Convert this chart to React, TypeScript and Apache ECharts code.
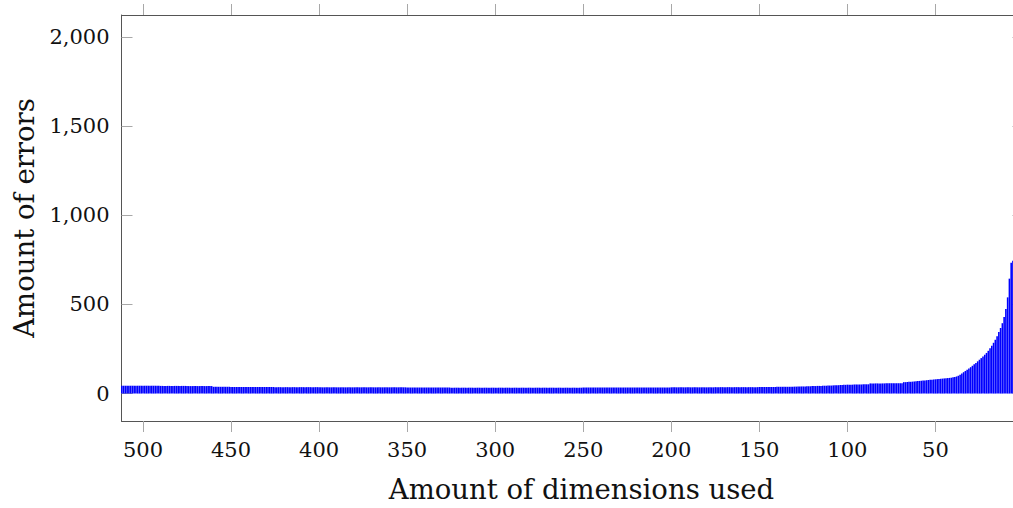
import React, { useEffect, useRef } from "react";
import * as echarts from "echarts";

// Amount of errors for each number of dimensions used (dimension 1 .. 512)
const errorsDims1to50 = [
  1928, 1450, 1180, 980, 860, 745, 735, 645, 540, 475,
  430, 395, 368, 345, 322, 302, 285, 268, 254, 240,
  228, 218, 208, 199, 190, 181, 172, 164, 156, 148,
  141, 134, 127, 120, 113, 106, 100, 96, 93, 91,
  89, 88, 87, 86, 85, 84, 83, 82, 81, 80,
];
const errorsDims51to100 = [
  79, 78, 77, 76, 75, 74, 73, 72, 71, 70,
  69, 68, 67, 66, 66, 65, 64, 64, 58, 58,
  58, 58, 58, 58, 58, 58, 58, 58, 57, 57,
  57, 57, 57, 57, 57, 57, 57, 52, 52, 52,
  52, 51, 51, 51, 51, 51, 50, 50, 50, 50,
];
const errorsDims101to150 = [
  49, 49, 48, 48, 47, 47, 46, 46, 45, 45,
  45, 44, 44, 44, 43, 43, 43, 42, 42, 42,
  41, 41, 41, 40, 40, 40, 39, 39, 39, 39,
  38, 38, 38, 38, 38, 38, 38, 38, 38, 38,
  37, 37, 37, 37, 37, 37, 37, 37, 37, 37,
];
const errorsDims151to250 = [
  36, 36, 36, 36, 36, 36, 36, 36, 36, 36, 36, 36, 36, 36, 36, 36, 36, 36, 36, 36, 36, 36, 36, 36, 36,
  35, 35, 35, 35, 35, 35, 35, 35, 35, 35, 35, 35, 35, 35, 35, 35, 35, 35, 35, 35, 35, 35, 35, 35, 35,
  34, 34, 34, 34, 34, 34, 34, 34, 34, 34, 34, 34, 34, 34, 34, 34, 34, 34, 34, 34, 34, 34, 34, 34, 34,
  34, 34, 34, 34, 34, 34, 34, 34, 34, 34, 34, 34, 34, 34, 34, 34, 34, 34, 34, 34, 34, 34, 34, 34, 34,
];
const errorsDims251to350 = [
  33, 33, 33, 33, 33, 33, 33, 33, 33, 33, 33, 33, 33, 33, 33, 33, 33, 33, 33, 33, 33, 33, 33, 33, 33,
  33, 33, 33, 33, 33, 33, 33, 33, 33, 33, 33, 33, 33, 33, 33, 33, 33, 33, 33, 33, 33, 33, 33, 33, 33,
  33, 33, 33, 33, 33, 33, 33, 33, 33, 33, 33, 33, 33, 33, 33, 33, 33, 33, 33, 33, 33, 33, 33, 33, 33,
  34, 34, 34, 34, 34, 34, 34, 34, 34, 34, 34, 34, 34, 34, 34, 34, 34, 34, 34, 34, 34, 34, 34, 34, 34,
];
const errorsDims351to450 = [
  35, 35, 35, 35, 35, 35, 35, 35, 35, 35, 35, 35, 35, 35, 35, 35, 35, 35, 35, 35, 35, 35, 35, 35, 35,
  35, 35, 35, 35, 35, 35, 35, 35, 35, 35, 35, 35, 35, 35, 35, 35, 35, 35, 35, 35, 35, 35, 35, 35, 35,
  36, 36, 36, 36, 36, 36, 36, 36, 36, 36, 36, 36, 36, 36, 36, 36, 36, 36, 36, 36, 36, 36, 36, 36, 36,
  37, 37, 37, 37, 37, 37, 37, 37, 37, 37, 37, 37, 37, 37, 37, 37, 37, 37, 37, 37, 37, 37, 37, 37, 37,
];
const errorsDims451to512 = [
  38, 38, 38, 38, 38, 38, 38, 38, 38, 38,
  42, 42, 42, 42, 42, 42, 42, 42, 42, 42,
  42, 42, 42, 42, 42, 43, 43, 43, 43, 43,
  43, 43, 43, 43, 43, 43, 43, 43, 43, 43,
  44, 44, 44, 44, 44, 44, 44, 44, 44, 44,
  44, 44, 44, 44, 44, 44, 44, 44, 44, 44,
  44, 44,
];

const xTicks = [50, 100, 150, 200, 250, 300, 350, 400, 450, 500];
const yTicks = [0, 500, 1000, 1500, 2000];

const allErrors = [
  ...errorsDims1to50,
  ...errorsDims51to100,
  ...errorsDims101to150,
  ...errorsDims151to250,
  ...errorsDims251to350,
  ...errorsDims351to450,
  ...errorsDims451to512,
];

export default function App() {
  const ref = useRef<HTMLDivElement>(null);
  useEffect(() => {
    if (!ref.current) return;
    const chart = echarts.init(ref.current, null, { renderer: "svg" });
    const font = "DejaVu Serif";
    const axisLineStyle = { color: "#555555", width: 1 };
    const tickLineStyle = { color: "#a8a8a8", width: 1 };
    const xMin = 0;
    const xMax = 512.2;
    const yMin = -154;
    const yMax = 2125;
    chart.setOption({
      animation: false,
      textStyle: { fontFamily: font },
      grid: { left: 121.5, top: 15, right: 0.5, bottom: 84, containLabel: false },
      xAxis: [
        {
          type: "value",
          inverse: true,
          min: xMin,
          max: xMax,
          position: "bottom",
          axisLine: { show: true, onZero: false, lineStyle: axisLineStyle },
          axisTick: { show: true, inside: false, length: 11, lineStyle: tickLineStyle, customValues: xTicks },
          axisLabel: { customValues: xTicks, fontSize: 21, color: "#111", margin: 18, fontFamily: font },
          splitLine: { show: false },
          name: "Amount of dimensions used",
          nameLocation: "middle",
          nameGap: 54,
          nameTextStyle: { fontSize: 27.5, color: "#111", fontFamily: font, padding: [0, 0, 0, 18] },
        },
        {
          type: "value",
          inverse: true,
          min: xMin,
          max: xMax,
          position: "top",
          axisLine: { show: true, onZero: false, lineStyle: axisLineStyle },
          axisTick: { show: true, inside: false, length: 11, lineStyle: tickLineStyle, customValues: xTicks },
          axisLabel: { show: false },
          splitLine: { show: false },
        },
      ],
      yAxis: [
        {
          type: "value",
          min: yMin,
          max: yMax,
          position: "left",
          axisLine: { show: true, onZero: false, lineStyle: axisLineStyle },
          axisTick: { show: true, inside: true, length: 11, lineStyle: tickLineStyle, customValues: yTicks },
          axisLabel: {
            customValues: yTicks,
            fontSize: 21,
            color: "#111",
            margin: 12,
            fontFamily: font,
            formatter: (v: number) => v.toLocaleString("en-US"),
          },
          splitLine: { show: false },
          name: "Amount of errors",
          nameLocation: "middle",
          nameGap: 79,
          nameRotate: 90,
          nameTextStyle: { fontSize: 27.5, color: "#111", fontFamily: font },
        },
        {
          type: "value",
          min: yMin,
          max: yMax,
          position: "right",
          axisLine: { show: true, onZero: false, lineStyle: axisLineStyle },
          axisTick: { show: true, inside: true, length: 11, lineStyle: tickLineStyle, customValues: yTicks },
          axisLabel: { show: false },
          splitLine: { show: false },
        },
      ],
      series: [
        {
          type: "bar",
          xAxisIndex: 0,
          yAxisIndex: 0,
          barWidth: 1.6,
          itemStyle: { color: "#0000ff" },
          data: allErrors.map((v, i) => [i + 1, v]),
        },
      ],
    });
    return () => chart.dispose();
  }, []);
  return (
    <div
      ref={ref}
      style={{ position: "fixed", left: 0, top: 0, width: 1024, height: 508, background: "#fff" }}
    />
  );
}
